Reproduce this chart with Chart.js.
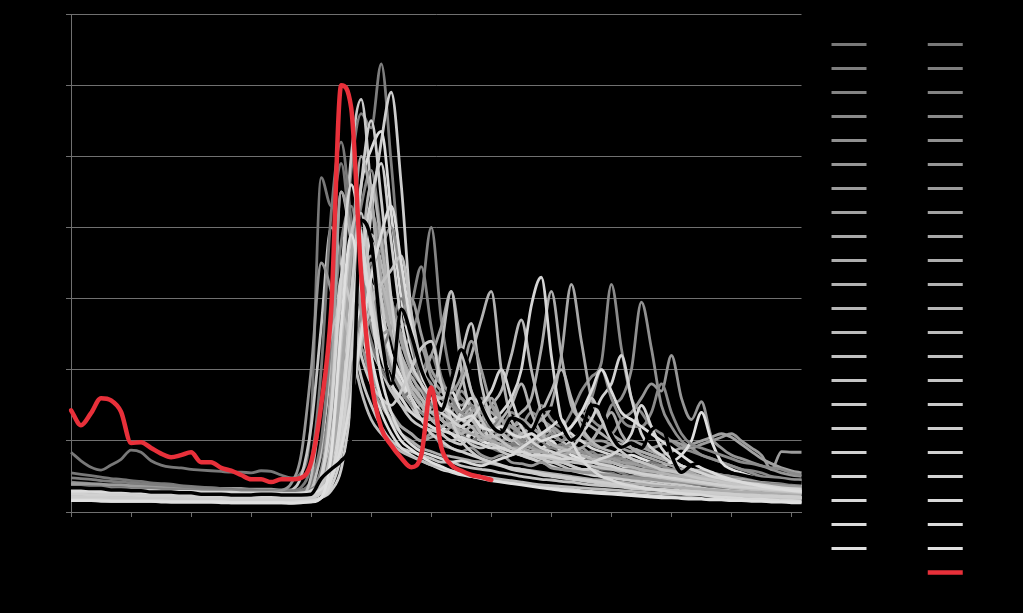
<!DOCTYPE html>
<html>
<head>
<meta charset="utf-8">
<script src="https://cdn.jsdelivr.net/npm/chart.js@4.4.1/dist/chart.umd.min.js"></script>
<style>
  html, body { margin: 0; padding: 0; background: #000; }
  #chart-wrap { width: 1023px; height: 613px; position: relative; }
</style>
</head>
<body>
<div id="chart-wrap"><canvas id="chart"></canvas></div>
<script>
// ============================================================
// DATOS
// ============================================================
const dayLabels = ['1','6','11','16','21','26','31','36','41','46','51','56','61','66','71','76','81','86','91','96',
  '101','106','111','116','121','126','131','136','141','146','151','156','161','166','171','176','181','186','191','196',
  '201','206','211','216','221','226','231','236','241','246','251','256','261','266','271','276','281','286','291','296',
  '301','306','311','316','321','326','331','336','341','346','351','356','361','366'];

const valueTicks = [0, 1, 2, 3, 4, 5, 6, 7];

// -- columna izquierda de la leyenda
const series01 = [0.84,0.72,0.63,0.59,0.66,0.74,0.87,0.84,0.72,0.66,0.63,0.62,0.6,0.59,0.58,0.57,0.56,0.56,0.55,0.58,0.57,0.52,0.48,
  0.55,1.3,4.7,4.3,4.9,3.8,2.9,2.3,2.0,1.7,1.6,1.4,1.5,1.3,1.2,1.1,1.2,1.0,0.95,0.9,0.85,0.9,0.8,0.75,0.8,0.7,0.7,0.65,0.6,0.6,0.55,0.55,0.5,0.5,0.5,0.45,0.45,0.45,0.4,0.4,0.4,0.38,0.36,0.35,0.34,0.33,0.32,0.31,0.3,0.3,0.29];
const series02 = [0.3,0.3,0.29,0.29,0.28,0.28,0.28,0.27,0.27,0.27,0.26,0.26,0.26,0.25,0.25,0.25,0.24,0.24,0.24,0.23,0.23,0.23,0.24,
  0.3,0.4,0.8,1.6,3.0,4.8,5.6,5.4,6.3,4.9,3.3,2.4,2.0,2.2,1.8,1.5,1.6,1.3,1.2,1.3,1.1,1.0,1.0,0.9,0.85,0.8,0.8,0.75,0.7,0.65,0.6,0.6,0.55,0.5,0.5,0.48,0.46,0.44,0.42,0.4,0.38,0.36,0.35,0.34,0.33,0.32,0.31,0.3,0.29,0.28,0.28];
const series03 = [0.42,0.41,0.4,0.39,0.38,0.38,0.37,0.36,0.36,0.35,0.34,0.34,0.33,0.33,0.32,0.32,0.31,0.31,0.3,0.3,0.3,0.29,0.29,
  0.3,0.35,0.5,1.0,2.0,3.2,3.9,3.3,3.6,2.8,2.3,2.5,3.0,4.0,2.7,1.9,1.6,1.5,1.3,1.4,1.2,1.1,1.2,1.0,0.9,0.9,0.85,0.8,0.75,0.7,0.7,0.65,0.6,0.6,0.55,0.55,0.5,0.5,0.48,0.46,0.45,0.44,0.42,0.4,0.39,0.38,0.37,0.36,0.35,0.34,0.33];
const series04 = [0.32,0.31,0.31,0.3,0.3,0.29,0.29,0.28,0.28,0.28,0.27,0.27,0.27,0.26,0.26,0.26,0.25,0.25,0.25,0.25,0.24,0.24,0.24,
  0.25,0.3,0.6,1.4,2.6,3.4,2.9,3.5,2.8,2.2,1.8,1.9,1.6,1.5,1.7,1.4,1.3,1.4,1.6,1.3,1.2,1.4,1.3,1.2,1.5,1.3,1.2,1.4,1.7,1.9,2.1,3.2,2.3,1.6,1.4,1.2,1.1,1.0,0.9,0.85,0.8,0.75,0.7,0.65,0.6,0.58,0.55,0.5,0.48,0.46,0.45];
const series05 = [0.36,0.36,0.35,0.35,0.34,0.34,0.33,0.33,0.32,0.32,0.31,0.31,0.3,0.3,0.3,0.29,0.29,0.29,0.28,0.28,0.28,0.27,0.27,
  0.28,0.3,0.4,0.7,1.5,2.6,3.5,4.2,3.7,3.0,2.4,2.0,1.8,1.6,1.5,1.4,1.7,1.5,1.3,1.2,1.3,1.1,1.2,1.4,1.3,1.2,1.1,1.2,1.4,1.3,1.2,1.5,1.6,2.0,2.95,2.3,1.5,1.2,1.0,0.9,0.8,0.75,0.7,0.65,0.6,0.55,0.5,0.48,0.45,0.42,0.4];
const series06 = [0.3,0.3,0.29,0.29,0.29,0.28,0.28,0.28,0.27,0.27,0.27,0.26,0.26,0.26,0.25,0.25,0.25,0.24,0.24,0.24,0.24,0.23,0.23,
  0.24,0.26,0.35,0.6,1.2,2.2,3.0,3.4,2.9,2.6,2.1,1.8,1.5,1.4,1.3,1.5,1.3,1.2,1.1,1.2,1.0,1.1,1.0,0.95,1.1,1.0,0.9,1.0,1.1,1.0,1.2,1.1,1.3,1.4,1.6,1.8,1.7,2.2,1.6,1.3,1.55,1.05,0.9,0.8,0.75,0.7,0.65,0.6,0.55,0.52,0.5];
const series07 = [0.4,0.4,0.39,0.39,0.38,0.38,0.37,0.37,0.36,0.36,0.35,0.35,0.34,0.34,0.34,0.33,0.33,0.33,0.32,0.32,0.32,0.31,0.31,
  0.31,0.33,0.4,0.6,1.0,1.6,2.4,3.0,3.3,2.9,2.5,2.1,2.3,1.9,1.7,1.6,1.5,1.6,1.4,1.3,1.3,1.2,1.3,1.2,1.1,1.2,1.1,1.0,1.1,1.0,1.0,0.95,0.9,1.0,0.95,0.9,0.95,1.0,0.95,0.9,0.95,1.0,1.05,1.1,1.0,0.9,0.8,0.6,0.85,0.84,0.84];
const series08 = [0.33,0.33,0.32,0.32,0.31,0.31,0.31,0.3,0.3,0.3,0.29,0.29,0.29,0.28,0.28,0.28,0.27,0.27,0.27,0.27,0.26,0.26,0.26,
  0.27,0.3,0.45,0.9,1.8,2.9,3.6,3.1,2.7,2.9,2.4,2.0,1.9,2.2,2.6,3.1,2.3,1.7,1.5,1.4,1.3,1.2,1.25,1.2,1.1,1.15,1.0,1.05,1.0,0.95,0.9,0.95,0.9,0.85,0.9,0.85,0.8,0.85,0.9,0.95,1.0,1.05,1.1,1.05,0.95,0.85,0.75,0.68,0.62,0.58,0.55];
const series09 = [0.3,0.3,0.3,0.29,0.29,0.29,0.28,0.28,0.28,0.27,0.27,0.27,0.27,0.26,0.26,0.26,0.25,0.25,0.25,0.25,0.24,0.24,0.24,
  0.25,0.28,0.4,0.8,1.7,2.8,3.4,2.9,2.5,2.2,1.9,1.7,1.5,1.6,1.4,1.3,1.35,1.2,1.3,1.5,1.3,1.2,1.1,1.2,1.3,1.5,2.2,3.2,2.4,1.6,1.3,1.1,1.0,0.9,0.85,0.8,0.75,0.7,0.65,0.6,0.58,0.55,0.52,0.5,0.48,0.46,0.44,0.42,0.4,0.39,0.38];
const series10 = [0.28,0.28,0.27,0.27,0.27,0.26,0.26,0.26,0.25,0.25,0.25,0.25,0.24,0.24,0.24,0.23,0.23,0.23,0.23,0.22,0.22,0.22,0.22,
  0.23,0.25,0.35,0.7,1.5,2.5,3.2,3.6,3.0,2.5,2.2,1.9,1.7,1.5,1.6,1.4,1.3,1.5,1.4,1.3,1.2,1.3,1.4,1.6,2.3,3.1,2.2,1.5,1.3,1.2,1.1,1.0,0.95,0.9,0.85,0.8,0.75,0.7,0.65,0.6,0.55,0.52,0.5,0.48,0.45,0.43,0.41,0.4,0.38,0.37,0.36];
const series11 = [0.26,0.26,0.26,0.25,0.25,0.25,0.25,0.24,0.24,0.24,0.23,0.23,0.23,0.23,0.22,0.22,0.22,0.22,0.21,0.21,0.21,0.21,0.2,
  0.21,0.24,0.4,1.0,2.0,2.9,2.6,3.0,2.5,2.0,1.8,1.5,1.4,1.3,1.4,1.5,1.8,2.2,2.7,3.1,2.0,1.3,1.1,1.0,1.1,0.95,0.9,0.85,0.8,0.8,0.75,0.7,0.65,0.6,0.58,0.55,0.52,0.5,0.48,0.45,0.42,0.4,0.38,0.36,0.34,0.32,0.31,0.3,0.29,0.28,0.27];
const series12 = [0.27,0.27,0.26,0.26,0.26,0.25,0.25,0.25,0.24,0.24,0.24,0.23,0.23,0.23,0.23,0.22,0.22,0.22,0.21,0.21,0.21,0.21,0.21,
  0.22,0.25,0.35,0.6,1.3,2.4,3.3,3.9,3.5,2.8,2.2,1.8,1.5,1.3,1.2,1.3,1.1,1.0,1.2,1.5,1.7,2.2,2.7,2.0,1.4,1.1,1.0,0.9,0.85,0.8,0.75,0.7,0.65,0.6,0.58,0.55,0.52,0.5,0.48,0.45,0.42,0.4,0.38,0.36,0.34,0.32,0.31,0.3,0.29,0.28,0.27,0.26];
const series13 = [0.24,0.24,0.24,0.23,0.23,0.23,0.23,0.22,0.22,0.22,0.22,0.21,0.21,0.21,0.21,0.2,0.2,0.2,0.2,0.19,0.19,0.19,0.19,
  0.2,0.22,0.3,0.5,1.0,1.9,2.8,3.4,2.7,2.1,1.7,1.5,1.3,1.5,2.3,3.1,2.0,1.4,1.2,1.0,0.9,0.85,0.8,0.75,0.7,0.7,0.65,0.6,0.6,0.55,0.5,0.5,0.48,0.45,0.42,0.4,0.38,0.36,0.34,0.32,0.3,0.29,0.28,0.27,0.26,0.25,0.24,0.23,0.22,0.22,0.21];
const series14 = [0.22,0.22,0.22,0.21,0.21,0.21,0.21,0.2,0.2,0.2,0.2,0.2,0.19,0.19,0.19,0.19,0.18,0.18,0.18,0.18,0.18,0.18,0.18,
  0.19,0.3,0.9,2.2,4.5,3.8,2.9,2.3,2.0,1.7,1.5,1.4,1.3,1.3,1.4,1.7,2.2,2.65,1.8,1.3,1.1,1.0,0.9,0.85,0.8,0.75,0.7,0.65,0.6,0.55,0.52,0.5,0.48,0.45,0.42,0.4,0.38,0.36,0.34,0.32,0.3,0.28,0.27,0.26,0.25,0.24,0.23,0.22,0.21,0.2,0.2];
const series15 = [0.3,0.3,0.3,0.29,0.29,0.29,0.28,0.28,0.28,0.28,0.27,0.27,0.27,0.26,0.26,0.26,0.26,0.25,0.25,0.25,0.25,0.26,0.3,
  0.5,1.2,2.6,4.0,3.5,2.6,1.9,1.5,1.2,1.0,0.9,0.85,0.8,0.75,0.7,0.7,0.65,0.62,0.6,0.58,0.55,0.53,0.5,0.48,0.46,0.45,0.43,0.42,0.4,0.38,0.37,0.36,0.35,0.33,0.32,0.31,0.3,0.29,0.28,0.27,0.26,0.25,0.24,0.23,0.22,0.21,0.2,0.2,0.19,0.18,0.18];
const series16 = [0.26,0.26,0.25,0.25,0.25,0.25,0.24,0.24,0.24,0.24,0.23,0.23,0.23,0.23,0.22,0.22,0.22,0.22,0.21,0.21,0.21,0.21,0.21,
  0.22,0.25,0.4,1.2,3.0,5.0,5.8,4.5,3.0,2.2,1.8,1.5,1.3,1.2,1.1,1.0,0.95,1.1,1.2,1.0,0.9,0.85,0.8,0.8,0.75,0.7,0.7,0.65,0.6,0.6,0.55,0.52,0.5,0.48,0.46,0.44,0.42,0.4,0.38,0.36,0.34,0.32,0.31,0.3,0.29,0.28,0.27,0.26,0.25,0.24,0.24];
const series17 = [0.2,0.2,0.2,0.2,0.19,0.19,0.19,0.19,0.19,0.18,0.18,0.18,0.18,0.18,0.17,0.17,0.17,0.17,0.17,0.16,0.16,0.16,0.16,
  0.17,0.18,0.2,0.3,0.6,1.5,2.8,4.2,5.2,5.9,4.6,2.8,2.0,1.6,1.4,1.3,1.2,1.1,1.0,0.95,0.9,0.85,0.8,0.75,0.7,0.65,0.6,0.58,0.55,0.52,0.5,0.48,0.46,0.44,0.42,0.4,0.38,0.36,0.34,0.32,0.3,0.29,0.28,0.27,0.26,0.25,0.24,0.23,0.22,0.21,0.2];
const series18 = [0.18,0.18,0.18,0.18,0.17,0.17,0.17,0.17,0.17,0.16,0.16,0.16,0.16,0.16,0.15,0.15,0.15,0.15,0.15,0.15,0.14,0.14,0.14,
  0.15,0.16,0.2,0.35,0.8,1.8,3.0,3.8,3.2,2.6,2.1,1.8,1.6,1.4,1.3,1.2,1.3,1.2,1.1,1.0,1.1,1.0,0.95,1.0,0.9,0.95,0.9,1.0,1.1,1.3,1.6,1.8,2.2,1.6,1.1,0.9,0.8,0.7,0.65,0.6,0.55,0.5,0.45,0.42,0.4,0.38,0.35,0.33,0.31,0.3,0.28];
const series19 = [0.34,0.34,0.33,0.33,0.33,0.32,0.32,0.32,0.31,0.31,0.31,0.3,0.3,0.3,0.29,0.29,0.29,0.28,0.28,0.28,0.27,0.27,0.27,
  0.28,0.3,0.4,0.7,1.4,2.5,3.3,2.8,2.3,2.0,1.8,1.6,1.4,1.5,1.3,1.2,1.4,1.6,1.5,1.3,1.4,1.6,2.0,2.9,3.3,2.2,1.3,1.1,1.0,0.9,0.85,0.8,0.75,0.7,0.65,0.6,0.58,0.55,0.52,0.5,0.48,0.46,0.44,0.42,0.4,0.38,0.36,0.34,0.32,0.3,0.29];
const series20 = [0.16,0.16,0.16,0.16,0.15,0.15,0.15,0.15,0.15,0.15,0.14,0.14,0.14,0.14,0.14,0.14,0.13,0.13,0.13,0.13,0.13,0.13,0.13,
  0.14,0.15,0.2,0.6,1.8,3.0,2.6,1.9,1.4,1.1,0.9,0.8,0.72,0.66,0.6,0.56,0.52,0.5,0.48,0.46,0.44,0.42,0.4,0.38,0.36,0.34,0.33,0.32,0.3,0.29,0.28,0.27,0.26,0.25,0.24,0.23,0.22,0.21,0.2,0.2,0.19,0.18,0.18,0.17,0.17,0.16,0.16,0.15,0.15,0.14,0.14,0.14];
const series21 = [0.24,0.24,0.23,0.23,0.23,0.23,0.22,0.22,0.22,0.22,0.21,0.21,0.21,0.21,0.2,0.2,0.2,0.2,0.2,0.19,0.19,0.19,0.19,
  0.2,0.22,0.3,0.6,1.6,3.2,4.6,5.1,5.35,4.2,3.0,2.3,1.9,1.7,1.5,1.7,1.4,1.3,1.2,1.3,1.1,1.0,1.1,0.95,0.9,1.0,0.85,0.8,0.85,0.75,0.7,0.7,0.65,0.6,0.58,0.55,0.52,0.5,0.48,0.45,0.42,0.4,0.38,0.36,0.35,0.34,0.33,0.32,0.31,0.3,0.29];
const series22 = [0.3,0.3,0.3,0.29,0.29,0.29,0.29,0.28,0.28,0.28,0.28,0.27,0.27,0.27,0.27,0.26,0.26,0.26,0.26,0.25,0.25,0.25,0.25,
  0.26,0.28,0.35,0.6,1.2,2.1,2.9,3.2,2.7,2.2,1.9,1.6,1.4,1.3,1.2,1.1,1.0,1.1,1.0,0.95,0.9,0.95,0.9,0.85,0.9,0.8,0.85,0.8,0.75,0.8,0.75,0.7,0.75,0.8,0.75,0.7,0.65,0.7,0.8,1.0,1.4,1.0,0.7,0.6,0.55,0.5,0.45,0.42,0.4,0.38,0.36];
// serie negra
const series23 = [0.34,0.34,0.33,0.33,0.31,0.31,0.3,0.3,0.28,0.28,0.28,0.27,0.27,0.25,0.25,0.25,0.24,0.24,0.24,0.25,0.25,0.24,0.24,
  0.24,0.25,0.47,0.6,0.72,1.1,4.1,3.8,2.5,1.8,2.85,2.49,2.0,1.69,1.43,1.86,2.28,1.93,1.5,1.22,1.12,1.32,1.27,1.15,1.41,1.46,1.22,1.01,1.15,1.5,1.43,1.08,0.91,0.97,0.9,1.15,1.22,0.8,0.56,0.66,0.69,0.65,0.59,0.55,0.52,0.49,0.46,0.45,0.44,0.42,0.41];

// -- columna derecha de la leyenda
const series24 = [0.55,0.53,0.51,0.49,0.47,0.46,0.44,0.43,0.41,0.4,0.39,0.37,0.36,0.35,0.34,0.33,0.32,0.31,0.31,0.3,0.3,0.3,0.3,
  0.35,0.7,2.0,4.2,5.2,4.1,3.0,2.4,2.0,1.8,1.6,1.7,1.5,1.3,1.2,1.3,1.1,1.0,1.1,1.2,1.0,0.95,0.9,1.0,0.9,0.85,0.8,0.9,0.85,0.8,0.75,0.8,0.75,0.7,0.65,0.7,0.65,0.6,0.6,0.58,0.55,0.55,0.52,0.5,0.5,0.48,0.46,0.45,0.44,0.43,0.42];
const series25 = [0.48,0.47,0.46,0.44,0.43,0.42,0.41,0.4,0.39,0.38,0.37,0.36,0.35,0.34,0.33,0.32,0.31,0.3,0.3,0.29,0.29,0.28,0.28,
  0.3,0.45,1.0,2.4,3.8,4.3,3.4,2.6,2.3,2.6,3.0,2.4,1.8,1.5,1.4,1.3,1.2,1.3,1.1,1.0,1.1,1.0,0.9,0.95,0.85,0.8,0.85,0.75,0.7,0.75,0.7,0.65,0.6,0.6,0.55,0.55,0.5,0.5,0.48,0.46,0.45,0.44,0.42,0.41,0.4,0.39,0.38,0.37,0.36,0.35,0.35];
const series26 = [0.36,0.36,0.35,0.35,0.34,0.34,0.33,0.33,0.33,0.32,0.32,0.31,0.31,0.31,0.3,0.3,0.3,0.29,0.29,0.29,0.28,0.28,0.28,
  0.29,0.32,0.45,0.9,2.0,3.4,4.3,4.8,3.9,3.0,2.6,2.9,3.45,2.6,1.9,1.6,1.4,1.5,1.3,1.2,1.3,1.1,1.0,1.1,1.0,0.9,0.95,0.85,0.8,0.85,0.75,0.7,0.7,0.65,0.6,0.6,0.55,0.55,0.5,0.5,0.48,0.46,0.45,0.44,0.43,0.42,0.41,0.4,0.4,0.39,0.38];
const series27 = [0.33,0.33,0.32,0.32,0.32,0.31,0.31,0.31,0.3,0.3,0.3,0.29,0.29,0.29,0.28,0.28,0.28,0.28,0.27,0.27,0.27,0.27,0.26,
  0.27,0.3,0.5,1.3,2.7,3.6,3.9,3.2,2.5,2.0,1.7,1.5,1.4,1.3,1.4,1.2,1.1,1.2,1.1,1.0,1.1,1.2,1.0,0.95,1.0,1.1,1.0,1.2,1.4,1.6,2.0,1.6,1.3,1.2,1.2,1.4,1.8,1.4,1.1,0.95,0.9,0.85,0.8,0.75,0.7,0.68,0.65,0.62,0.6,0.55,0.52];
const series28 = [0.29,0.29,0.28,0.28,0.28,0.28,0.27,0.27,0.27,0.27,0.26,0.26,0.26,0.26,0.25,0.25,0.25,0.25,0.24,0.24,0.24,0.24,0.24,
  0.25,0.27,0.35,0.6,1.1,2.0,2.8,3.4,3.7,4.0,3.3,2.5,2.0,1.8,1.6,1.5,1.4,1.3,1.4,1.2,1.1,1.2,1.1,1.0,1.05,0.95,0.9,0.95,0.85,0.8,0.8,0.75,0.75,0.7,0.7,0.65,0.65,0.6,0.6,0.58,0.56,0.54,0.52,0.5,0.5,0.49,0.48,0.47,0.46,0.45,0.45];
const series29 = [0.31,0.31,0.3,0.3,0.3,0.3,0.29,0.29,0.29,0.29,0.28,0.28,0.28,0.28,0.27,0.27,0.27,0.27,0.27,0.27,0.28,0.3,0.4,
  0.8,2.0,3.5,3.1,2.4,2.0,2.3,1.8,1.5,1.3,1.2,1.1,1.0,1.1,0.95,0.9,0.85,0.9,0.8,0.75,0.8,0.7,0.68,0.65,0.7,0.62,0.6,0.58,0.56,0.55,0.53,0.52,0.5,0.48,0.47,0.46,0.44,0.43,0.42,0.41,0.4,0.39,0.38,0.37,0.36,0.35,0.34,0.33,0.32,0.31,0.3];
const series30 = [0.27,0.27,0.27,0.26,0.26,0.26,0.26,0.25,0.25,0.25,0.25,0.24,0.24,0.24,0.24,0.23,0.23,0.23,0.23,0.23,0.22,0.22,0.22,
  0.23,0.25,0.3,0.5,0.9,1.6,2.3,2.7,2.5,2.6,2.8,3.0,2.5,2.0,1.8,1.7,1.9,2.4,2.0,1.5,1.3,1.2,1.1,1.0,1.05,0.95,0.9,0.85,0.9,0.8,0.75,0.75,0.7,0.68,0.65,0.62,0.6,0.58,0.55,0.53,0.5,0.48,0.46,0.44,0.42,0.41,0.4,0.38,0.37,0.36,0.35];
const series31 = [0.25,0.25,0.25,0.24,0.24,0.24,0.24,0.23,0.23,0.23,0.23,0.22,0.22,0.22,0.22,0.22,0.21,0.21,0.21,0.21,0.21,0.2,0.2,
  0.21,0.24,0.5,1.8,4.5,3.9,2.8,2.0,1.6,1.4,1.2,1.1,1.0,1.05,1.1,1.2,1.3,1.4,1.5,1.6,1.3,1.1,0.95,0.9,0.85,0.8,0.8,0.75,0.7,0.7,0.65,0.62,0.6,0.58,0.55,0.52,0.5,0.48,0.46,0.44,0.42,0.4,0.39,0.38,0.36,0.35,0.34,0.33,0.32,0.31,0.3];
const series32 = [0.28,0.28,0.27,0.27,0.27,0.27,0.26,0.26,0.26,0.26,0.25,0.25,0.25,0.25,0.24,0.24,0.24,0.24,0.23,0.23,0.23,0.23,0.23,
  0.24,0.27,0.35,0.7,1.8,3.6,5.0,4.4,3.3,2.5,2.0,1.7,1.5,1.4,1.3,1.2,1.15,1.1,1.05,1.0,0.95,0.9,0.9,0.85,0.85,0.8,0.8,0.85,0.9,1.0,1.2,1.4,1.1,0.9,0.8,0.75,0.7,0.65,0.6,0.55,0.5,0.48,0.45,0.42,0.4,0.38,0.36,0.34,0.32,0.31,0.3];
const series33 = [0.22,0.22,0.22,0.21,0.21,0.21,0.21,0.21,0.2,0.2,0.2,0.2,0.2,0.19,0.19,0.19,0.19,0.19,0.18,0.18,0.18,0.18,0.18,
  0.19,0.21,0.3,0.8,2.2,3.8,3.0,2.1,1.6,1.3,1.1,1.0,0.9,0.85,0.8,0.78,0.75,0.72,0.7,0.68,0.65,0.62,0.6,0.58,0.56,0.54,0.52,0.5,0.48,0.46,0.45,0.43,0.42,0.4,0.39,0.37,0.36,0.35,0.34,0.33,0.32,0.31,0.3,0.29,0.28,0.28,0.27,0.27,0.26,0.26,0.25];
const series34 = [0.24,0.24,0.24,0.24,0.23,0.23,0.23,0.23,0.23,0.22,0.22,0.22,0.22,0.22,0.21,0.21,0.21,0.21,0.21,0.2,0.2,0.2,0.2,
  0.21,0.23,0.3,0.55,1.2,2.4,3.6,4.6,3.8,2.8,2.1,1.7,1.5,1.3,1.2,1.25,1.1,1.2,1.0,1.1,1.3,1.5,1.8,1.4,1.1,0.95,0.9,0.85,0.8,0.75,0.72,0.7,0.66,0.63,0.6,0.57,0.55,0.52,0.5,0.48,0.46,0.44,0.42,0.4,0.38,0.37,0.36,0.35,0.34,0.33,0.32];
const series35 = [0.26,0.26,0.26,0.25,0.25,0.25,0.25,0.24,0.24,0.24,0.24,0.24,0.23,0.23,0.23,0.23,0.22,0.22,0.22,0.22,0.22,0.21,0.21,
  0.22,0.25,0.3,0.5,1.0,1.8,2.6,3.0,3.2,2.7,2.2,1.8,1.6,1.4,1.5,1.3,1.2,1.3,1.1,1.05,1.1,1.0,1.1,1.2,1.4,1.7,2.0,1.6,1.2,1.0,0.9,0.85,0.8,0.75,0.7,0.65,0.6,0.58,0.55,0.52,0.5,0.47,0.45,0.43,0.41,0.39,0.37,0.35,0.33,0.31,0.3];
const series36 = [0.2,0.2,0.2,0.19,0.19,0.19,0.19,0.19,0.18,0.18,0.18,0.18,0.18,0.17,0.17,0.17,0.17,0.17,0.17,0.16,0.16,0.16,0.17,
  0.2,0.5,1.5,2.5,2.8,2.3,1.7,1.3,1.1,0.95,0.85,0.78,0.72,0.66,0.62,0.58,0.55,0.52,0.5,0.48,0.46,0.44,0.42,0.4,0.38,0.37,0.36,0.35,0.34,0.33,0.32,0.31,0.3,0.29,0.28,0.27,0.26,0.25,0.25,0.24,0.24,0.23,0.23,0.22,0.22,0.21,0.21,0.2,0.2,0.19,0.19];
const series37 = [0.23,0.23,0.23,0.23,0.22,0.22,0.22,0.22,0.22,0.21,0.21,0.21,0.21,0.21,0.2,0.2,0.2,0.2,0.2,0.2,0.19,0.19,0.19,
  0.2,0.22,0.28,0.45,0.9,1.6,2.4,2.9,3.2,3.4,3.6,2.8,2.1,1.7,1.6,1.8,2.2,1.7,1.3,1.1,1.0,0.9,0.85,0.8,0.78,0.75,0.72,0.7,0.68,0.65,0.62,0.6,0.58,0.55,0.52,0.5,0.48,0.46,0.44,0.42,0.4,0.38,0.36,0.34,0.33,0.32,0.31,0.3,0.29,0.28,0.27];
const series38 = [0.27,0.27,0.27,0.26,0.26,0.26,0.26,0.26,0.25,0.25,0.25,0.25,0.25,0.24,0.24,0.24,0.24,0.24,0.23,0.23,0.23,0.23,0.23,
  0.24,0.26,0.35,0.9,2.4,3.9,4.2,3.1,2.3,1.8,1.5,1.3,1.2,1.15,1.1,1.0,1.05,0.95,0.9,0.95,0.85,0.8,0.85,0.8,0.75,0.8,0.85,0.9,1.1,1.6,1.3,1.0,0.85,0.75,0.7,0.65,0.6,0.57,0.54,0.5,0.47,0.45,0.42,0.4,0.38,0.36,0.34,0.32,0.3,0.29,0.28];
const series39 = [0.19,0.19,0.19,0.19,0.18,0.18,0.18,0.18,0.18,0.18,0.17,0.17,0.17,0.17,0.17,0.17,0.16,0.16,0.16,0.16,0.16,0.16,0.16,
  0.17,0.19,0.4,1.5,3.3,2.9,2.2,1.8,1.6,1.5,1.7,2.0,2.3,2.4,1.8,1.3,1.0,0.85,0.75,0.7,0.65,0.6,0.57,0.55,0.52,0.5,0.48,0.46,0.44,0.42,0.4,0.38,0.36,0.35,0.33,0.32,0.31,0.3,0.29,0.28,0.27,0.26,0.25,0.24,0.23,0.22,0.22,0.21,0.21,0.2,0.2];
const series40 = [0.21,0.21,0.21,0.21,0.2,0.2,0.2,0.2,0.2,0.2,0.19,0.19,0.19,0.19,0.19,0.18,0.18,0.18,0.18,0.18,0.18,0.17,0.17,
  0.18,0.2,0.26,0.5,1.3,3.0,4.6,5.5,4.4,3.0,2.1,1.6,1.3,1.1,1.0,0.9,0.85,0.8,0.75,0.7,0.66,0.62,0.6,0.57,0.54,0.52,0.5,0.48,0.46,0.44,0.42,0.4,0.38,0.36,0.35,0.33,0.32,0.31,0.3,0.29,0.28,0.27,0.26,0.25,0.24,0.23,0.22,0.22,0.21,0.21,0.2];
const series41 = [0.25,0.25,0.24,0.24,0.24,0.24,0.24,0.23,0.23,0.23,0.23,0.23,0.22,0.22,0.22,0.22,0.22,0.21,0.21,0.21,0.21,0.21,0.2,
  0.21,0.23,0.28,0.45,1.0,2.2,3.5,4.4,4.9,3.8,2.7,2.1,1.8,1.6,1.4,1.3,1.2,1.3,1.5,1.7,2.0,1.6,1.2,1.0,0.9,0.85,0.8,0.75,0.72,0.7,0.67,0.64,0.6,0.57,0.54,0.52,0.5,0.48,0.46,0.44,0.42,0.4,0.38,0.36,0.35,0.34,0.33,0.32,0.31,0.3,0.29];
const series42 = [0.32,0.32,0.31,0.31,0.31,0.3,0.3,0.3,0.3,0.29,0.29,0.29,0.29,0.28,0.28,0.28,0.28,0.27,0.27,0.27,0.27,0.26,0.26,
  0.27,0.3,0.5,1.4,3.3,4.6,3.9,2.9,2.2,1.8,1.6,1.4,1.3,1.2,1.15,1.1,1.05,1.0,0.95,0.9,0.9,0.85,0.85,0.8,0.8,0.78,0.75,0.75,0.72,0.7,0.75,0.8,0.9,1.1,1.5,1.2,0.9,0.75,0.65,0.6,0.55,0.5,0.47,0.44,0.42,0.4,0.38,0.36,0.34,0.33,0.32];
const series43 = [0.17,0.17,0.17,0.17,0.16,0.16,0.16,0.16,0.16,0.16,0.15,0.15,0.15,0.15,0.15,0.15,0.14,0.14,0.14,0.14,0.14,0.14,0.14,
  0.15,0.16,0.2,0.45,1.3,2.7,3.6,2.8,1.9,1.4,1.1,0.95,0.85,0.8,0.75,0.7,0.72,0.68,0.65,0.7,0.75,0.8,0.9,1.0,1.1,1.2,1.3,1.0,0.75,0.6,0.5,0.45,0.4,0.37,0.34,0.32,0.3,0.28,0.26,0.25,0.24,0.22,0.21,0.2,0.19,0.18,0.18,0.17,0.16,0.16,0.15];
const series44 = [0.29,0.29,0.29,0.28,0.28,0.28,0.28,0.27,0.27,0.27,0.27,0.26,0.26,0.26,0.26,0.25,0.25,0.25,0.25,0.24,0.24,0.24,0.24,
  0.25,0.27,0.32,0.5,0.9,1.6,2.5,3.3,3.9,4.3,3.5,2.6,2.0,1.7,1.5,1.4,1.3,1.35,1.2,1.15,1.2,1.1,1.05,1.1,1.0,1.05,1.1,1.2,1.4,1.7,2.0,1.7,1.4,1.3,1.2,1.1,1.0,0.9,0.8,0.7,0.62,0.56,0.5,0.46,0.42,0.39,0.36,0.34,0.32,0.3,0.29];
const series45 = [0.16,0.16,0.16,0.15,0.15,0.15,0.15,0.15,0.15,0.14,0.14,0.14,0.14,0.14,0.14,0.13,0.13,0.13,0.13,0.13,0.13,0.13,0.12,
  0.13,0.14,0.2,0.8,2.6,3.9,3.1,2.2,1.6,1.25,1.0,0.88,0.78,0.7,0.64,0.58,0.54,0.5,0.47,0.44,0.42,0.4,0.38,0.36,0.34,0.32,0.3,0.29,0.28,0.27,0.26,0.25,0.24,0.23,0.22,0.21,0.2,0.2,0.19,0.18,0.18,0.17,0.17,0.16,0.16,0.15,0.15,0.14,0.14,0.13,0.13];
// serie roja
const series46 = [1.43,1.22,1.39,1.6,1.57,1.41,0.97,0.98,0.9,0.82,0.77,0.8,0.84,0.7,0.7,0.62,0.58,0.52,0.46,0.46,0.42,0.46,0.46,
  0.48,0.7,1.5,2.84,6.0,5.68,3.33,1.86,1.18,0.94,0.76,0.63,0.8,1.75,0.91,0.66,0.58,0.52,0.49,0.45,
  null,null,null,null,null,null,null,null,null,null,null,null,null,null,null,null,null,null,null,null,null,null,null,null,null,null,null,null,null,null,null];

const grayShades = ['#787878','#7e7e7e','#848484','#8a8a8a','#909090','#969696','#9c9c9c','#a2a2a2','#a8a8a8','#adadad','#b2b2b2',
  '#b7b7b7','#bcbcbc','#c1c1c1','#c5c5c5','#c9c9c9','#cdcdcd','#d1d1d1','#d5d5d5','#d9d9d9','#dcdcdc','#e0e0e0'];

const leftGrays  = [series01, series02, series03, series04, series05, series06, series07, series08, series09, series10, series11,
  series12, series13, series14, series15, series16, series17, series18, series19, series20, series21, series22];
const rightGrays = [series24, series25, series26, series27, series28, series29, series30, series31, series32, series33, series34,
  series35, series36, series37, series38, series39, series40, series41, series42, series43, series44, series45];

// ============================================================
// DATASETS
// ============================================================
const _grayDataset = (data, shade, n) => ({
  label: `Series ${n}`,
  data,
  borderColor: shade,
  backgroundColor: shade,
  borderWidth: 2.8,
  pointRadius: 0,
  cubicInterpolationMode: 'monotone',
  order: 100 - n
});

const datasets = [];
leftGrays.forEach((d, i) => datasets.push(_grayDataset(d, grayShades[i], i + 1)));
datasets.push({
  label: 'Series 23', data: series23, borderColor: '#000', backgroundColor: '#000',
  borderWidth: 3.5, pointRadius: 0, cubicInterpolationMode: 'monotone', order: 1
});
rightGrays.forEach((d, i) => datasets.push(_grayDataset(d, grayShades[i], i + 24)));
datasets.push({
  label: 'Series 46', data: series46, borderColor: '#e8303a', backgroundColor: '#e8303a',
  borderWidth: 4.5, borderCapStyle: 'round', pointRadius: 0, cubicInterpolationMode: 'monotone', order: 0
});

// ============================================================
// GRÁFICA
// ============================================================
const axisGray = '#707070';

new Chart(document.getElementById('chart'), {
  type: 'line',
  data: { labels: dayLabels, datasets },
  options: {
    responsive: true,
    maintainAspectRatio: false,
    animation: false,
    layout: { padding: { top: 14, bottom: 10, left: 0, right: 3 } },
    plugins: {
      tooltip: { enabled: false },
      legend: {
        position: 'right',
        align: 'center',
        maxWidth: 240,
        labels: {
          color: '#000',
          font: { size: 10, family: 'Liberation Sans' },
          usePointStyle: true,
          pointStyle: 'line',
          pointStyleWidth: 35,
          padding: 14,
          sort: (a, b) => a.datasetIndex - b.datasetIndex
        }
      }
    },
    scales: {
      x: {
        type: 'category',
        offset: false,
        grid: { drawOnChartArea: false, drawTicks: true, tickLength: 5, color: axisGray },
        border: { color: axisGray },
        ticks: {
          color: '#000',
          autoSkip: false,
          maxRotation: 0,
          font: { size: 11 },
          callback: function (v, i) { return i % 6 === 0 ? this.getLabelForValue(v) : null; }
        },
        afterFit: (s) => { s.height = 91; }
      },
      y: {
        min: valueTicks[0],
        max: valueTicks[valueTicks.length - 1],
        grid: { color: axisGray, tickLength: 5 },
        border: { color: axisGray },
        ticks: { stepSize: 1, color: '#000', font: { size: 11 } },
        afterFit: (s) => { s.width = 71; }
      },
      yGap: {
        position: 'right',
        display: true,
        grid: { display: false },
        border: { display: false },
        ticks: { display: false },
        afterFit: (s) => { s.width = 16; }
      }
    }
  }
});
</script>
</body>
</html>
